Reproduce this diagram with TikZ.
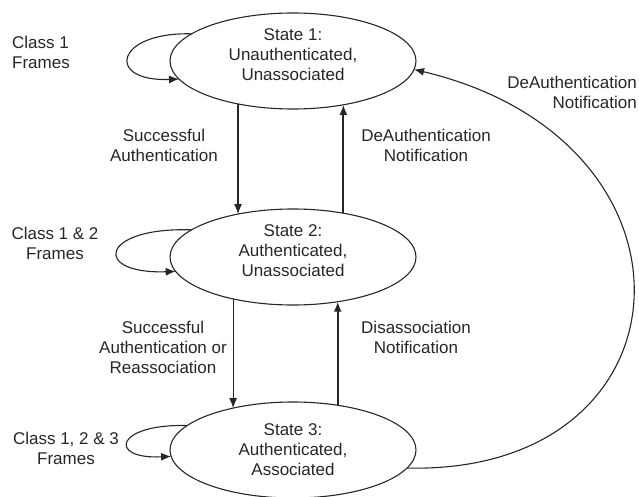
\documentclass[tikz,border=0pt]{standalone}
\usepackage{fontspec}
\setmainfont{Liberation Sans}
\usetikzlibrary{arrows.meta,shapes.geometric}

\begin{document}
\begin{tikzpicture}[x=1pt,y=-1pt,
  stnode/.style={ellipse,draw=black!85,line width=1.1pt,minimum width=246pt,minimum height=96pt,inner sep=0pt,outer sep=0pt,align=center,text=black!85},
  lbl/.style={align=center,text=black!85,inner sep=0pt},
  trans/.style={-{Latex[length=10pt,width=8pt]},draw=black!85,line width=1.1pt},
  back/.style={trans,line width=1.8pt}]
\useasboundingbox (0,0) rectangle (639,497);
\fontsize{17}{20}\selectfont

% States
\node[stnode,text depth=12pt] (s1) at (293,61) {State 1:\\Unauthenticated,\\Unassociated};
\node[stnode,text depth=12pt] (s2) at (293,257) {State 2:\\Authenticated,\\Unassociated};
\node[stnode] (s3) at (293,450) {State 3:\\Authenticated,\\Associated};

% Allowed frames
\node[lbl,align=left,anchor=west] (cls1) at (12,52) {Class 1\\Frames};
\node[lbl] (cls2) at (55,243) {Class 1 \& 2\\Frames};
\node[lbl] (cls3) at (66,448) {Class 1, 2 \& 3\\Frames};
\draw[trans] (s1.165) .. controls +(-77,-2) and +(-74,3) .. (s1.189);
\draw[trans] (s2.165) .. controls +(-92,-3) and +(-84,3) .. (s2.187);
\draw[trans] (s3.167) .. controls +(-72,-2) and +(-64,3) .. (s3.183);

% Transitions
\draw[trans] (s1.-142) -- (s2.142);
\draw[back] (s2.41.25) -- (s1.-41.25);
\draw[trans] (s2.-145.1) -- (s3.145.1);
\draw[back] (s3.45.5) -- (s2.-45.5);
\draw[trans] (s3.-9) .. controls +(290,7) and +(303,72) .. (s1.-4);

\node[lbl] (auth) at (164,145) {Successful\\Authentication};
\node[lbl] (deauth) at (426,145) {DeAuthentication\\Notification};
\node[lbl] (reassoc) at (163,347) {Successful\\Authentication or\\Reassociation};
\node[lbl] (disassoc) at (416,337) {Disassociation\\Notification};
\node[lbl,align=right,anchor=east] (deauthfar) at (637,92) {DeAuthentication\\Notification};
\end{tikzpicture}
\end{document}
